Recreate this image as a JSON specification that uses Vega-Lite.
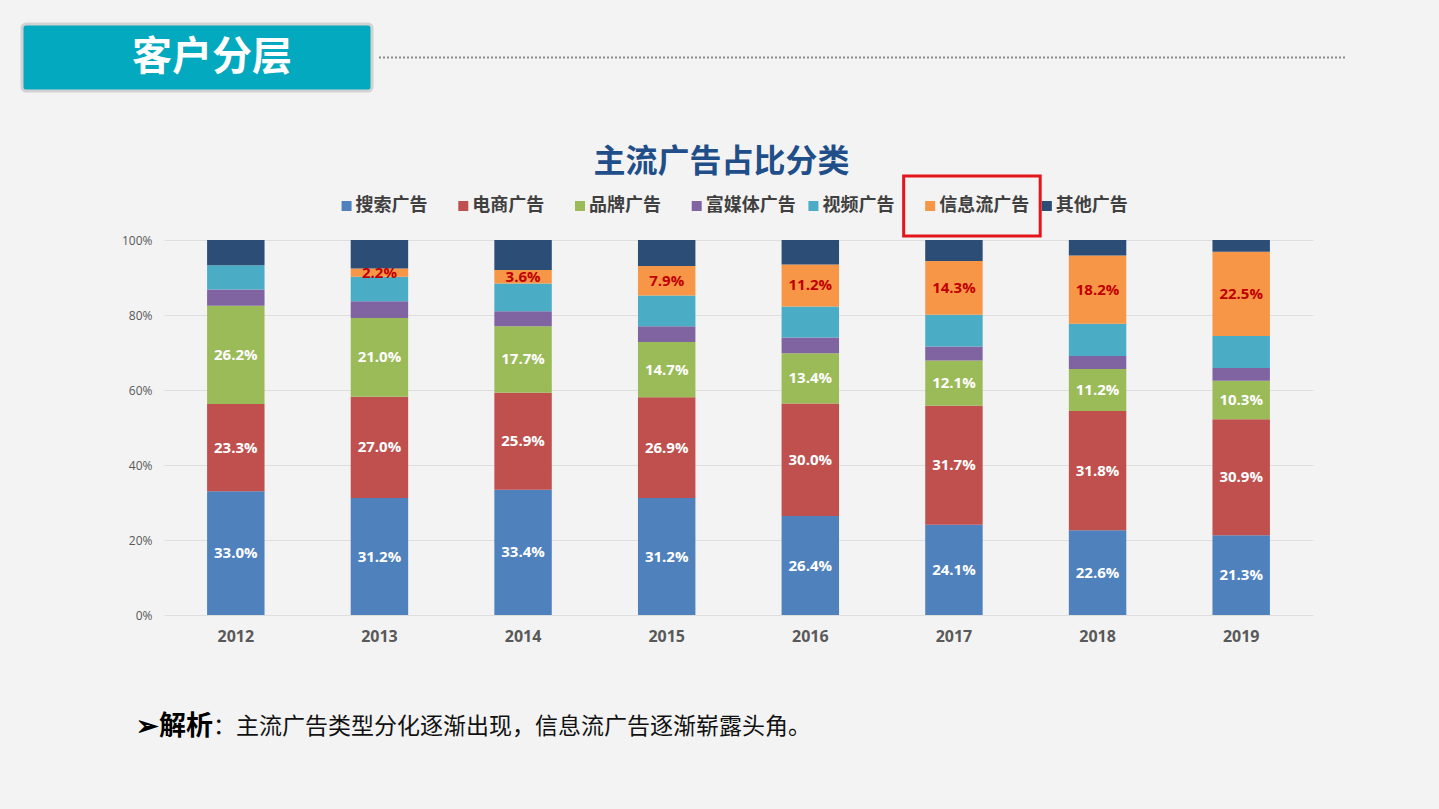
{
  "$schema": "https://vega.github.io/schema/vega-lite/v6.json",
  "background": "#f3f3f3",
  "padding": {"left": 20, "top": 22, "right": 94, "bottom": 67},
  "config": {"view": {"stroke": null}, "font": "Noto Sans CJK SC"},
  "datasets": {
    "图例": [
      {"类别": "搜索广告", "序号": 1},
      {"类别": "电商广告", "序号": 2},
      {"类别": "品牌广告", "序号": 3},
      {"类别": "富媒体广告", "序号": 4},
      {"类别": "视频广告", "序号": 5},
      {"类别": "信息流广告", "序号": 6},
      {"类别": "其他广告", "序号": 7}
    ],
    "占比": [
      {"年份": "2012", "类别": "搜索广告", "占比": 0.330},
      {"年份": "2012", "类别": "电商广告", "占比": 0.233},
      {"年份": "2012", "类别": "品牌广告", "占比": 0.262},
      {"年份": "2012", "类别": "富媒体广告", "占比": 0.043},
      {"年份": "2012", "类别": "视频广告", "占比": 0.065},
      {"年份": "2012", "类别": "其他广告", "占比": 0.067},
      {"年份": "2013", "类别": "搜索广告", "占比": 0.312},
      {"年份": "2013", "类别": "电商广告", "占比": 0.270},
      {"年份": "2013", "类别": "品牌广告", "占比": 0.210},
      {"年份": "2013", "类别": "富媒体广告", "占比": 0.045},
      {"年份": "2013", "类别": "视频广告", "占比": 0.065},
      {"年份": "2013", "类别": "信息流广告", "占比": 0.022},
      {"年份": "2013", "类别": "其他广告", "占比": 0.076},
      {"年份": "2014", "类别": "搜索广告", "占比": 0.334},
      {"年份": "2014", "类别": "电商广告", "占比": 0.259},
      {"年份": "2014", "类别": "品牌广告", "占比": 0.177},
      {"年份": "2014", "类别": "富媒体广告", "占比": 0.040},
      {"年份": "2014", "类别": "视频广告", "占比": 0.074},
      {"年份": "2014", "类别": "信息流广告", "占比": 0.036},
      {"年份": "2014", "类别": "其他广告", "占比": 0.080},
      {"年份": "2015", "类别": "搜索广告", "占比": 0.312},
      {"年份": "2015", "类别": "电商广告", "占比": 0.269},
      {"年份": "2015", "类别": "品牌广告", "占比": 0.147},
      {"年份": "2015", "类别": "富媒体广告", "占比": 0.042},
      {"年份": "2015", "类别": "视频广告", "占比": 0.082},
      {"年份": "2015", "类别": "信息流广告", "占比": 0.079},
      {"年份": "2015", "类别": "其他广告", "占比": 0.069},
      {"年份": "2016", "类别": "搜索广告", "占比": 0.264},
      {"年份": "2016", "类别": "电商广告", "占比": 0.300},
      {"年份": "2016", "类别": "品牌广告", "占比": 0.134},
      {"年份": "2016", "类别": "富媒体广告", "占比": 0.042},
      {"年份": "2016", "类别": "视频广告", "占比": 0.083},
      {"年份": "2016", "类别": "信息流广告", "占比": 0.112},
      {"年份": "2016", "类别": "其他广告", "占比": 0.065},
      {"年份": "2017", "类别": "搜索广告", "占比": 0.241},
      {"年份": "2017", "类别": "电商广告", "占比": 0.317},
      {"年份": "2017", "类别": "品牌广告", "占比": 0.121},
      {"年份": "2017", "类别": "富媒体广告", "占比": 0.037},
      {"年份": "2017", "类别": "视频广告", "占比": 0.085},
      {"年份": "2017", "类别": "信息流广告", "占比": 0.143},
      {"年份": "2017", "类别": "其他广告", "占比": 0.056},
      {"年份": "2018", "类别": "搜索广告", "占比": 0.226},
      {"年份": "2018", "类别": "电商广告", "占比": 0.318},
      {"年份": "2018", "类别": "品牌广告", "占比": 0.112},
      {"年份": "2018", "类别": "富媒体广告", "占比": 0.035},
      {"年份": "2018", "类别": "视频广告", "占比": 0.086},
      {"年份": "2018", "类别": "信息流广告", "占比": 0.182},
      {"年份": "2018", "类别": "其他广告", "占比": 0.041},
      {"年份": "2019", "类别": "搜索广告", "占比": 0.213},
      {"年份": "2019", "类别": "电商广告", "占比": 0.309},
      {"年份": "2019", "类别": "品牌广告", "占比": 0.103},
      {"年份": "2019", "类别": "富媒体广告", "占比": 0.034},
      {"年份": "2019", "类别": "视频广告", "占比": 0.085},
      {"年份": "2019", "类别": "信息流广告", "占比": 0.225},
      {"年份": "2019", "类别": "其他广告", "占比": 0.031}
    ]
  },
  "spacing": 68,
  "vconcat": [
    {
      "spacing": 52,
      "vconcat": [
        {
          "spacing": 2,
          "hconcat": [
            {
              "width": 350,
              "height": 67,
              "view": {"fill": "#03A9BE", "stroke": "#d2d2d2", "strokeWidth": 3, "cornerRadius": 4},
              "data": {"values": [{"标题": "客户分层"}]},
              "mark": {"type": "text", "fontSize": 40, "fontWeight": "bold", "color": "#ffffff", "dx": 15},
              "encoding": {"text": {"field": "标题"}}
            },
            {
              "width": 968,
              "height": 67,
              "data": {"values": [{"基线": 0}]},
              "mark": {"type": "rule", "color": "#8c8c8c", "strokeWidth": 2, "strokeDash": [2, 2]},
              "encoding": {
                "y": {"field": "基线", "type": "quantitative", "scale": {"domain": [-1, 1]}, "axis": null}
              }
            }
          ]
        },
        {
          "spacing": -4,
          "vconcat": [
            {
              "spacing": 0,
              "hconcat": [
                {
                  "width": 308,
                  "height": 1,
                  "data": {"values": [{}]},
                  "mark": {"type": "rule", "opacity": 0},
                  "encoding": {}
                },
                {
                  "width": 817,
                  "height": 60,
                  "title": {"text": "主流广告占比分类", "fontSize": 32, "fontWeight": "bold", "color": "#1F4E89", "offset": 0, "dy": 4, "anchor": "middle", "frame": "group", "dx": -17},
                  "data": {"name": "图例"},
                  "layer": [
                    {
                      "transform": [{"filter": "datum['类别'] === '信息流广告'"}],
                      "mark": {"type": "bar", "filled": false, "stroke": "#E5141B", "strokeWidth": 3, "width": {"band": 1.17}},
                      "encoding": {
                        "x": {"field": "类别", "type": "nominal", "sort": {"field": "序号"}, "axis": null,
                          "scale": {"type": "band", "paddingInner": 0, "paddingOuter": 0}}
                      }
                    },
                    {
                      "mark": {"type": "square", "size": 100, "opacity": 1, "filled": true},
                      "encoding": {
                        "x": {"field": "类别", "type": "nominal", "sort": {"field": "序号"}, "bandPosition": 0.142, "axis": null},
                        "color": {"field": "类别", "type": "nominal", "legend": null,
                          "scale": {"domain": ["搜索广告", "电商广告", "品牌广告", "富媒体广告", "视频广告", "信息流广告", "其他广告"],
                            "range": ["#4F81BD", "#C0504D", "#9BBB59", "#8064A2", "#4BACC6", "#F79646", "#2C4D75"]}}
                      }
                    },
                    {
                      "mark": {"type": "text", "align": "left", "dx": 9, "dy": 0, "fontSize": 18, "fontWeight": "bold", "color": "#404040"},
                      "encoding": {
                        "x": {"field": "类别", "type": "nominal", "sort": {"field": "序号"}, "bandPosition": 0.142, "axis": null},
                        "text": {"field": "类别"}
                      }
                    }
                  ]
                }
              ]
            },
            {
              "spacing": 0,
              "hconcat": [
                {
                  "width": 98,
                  "height": 1,
                  "data": {"values": [{}]},
                  "mark": {"type": "rule", "opacity": 0},
                  "encoding": {}
                },
                {
                  "width": 1149,
                  "height": 375,
                  "data": {"name": "占比"},
                  "transform": [
                    {"lookup": "类别", "from": {"data": {"name": "图例"}, "key": "类别", "fields": ["序号"]}}
                  ],
                  "encoding": {
                    "x": {"field": "年份", "type": "ordinal",
                      "scale": {"paddingInner": 0.6, "paddingOuter": 0.3},
                      "axis": {"labelFont": "Open Sans", "labelFontSize": 16, "labelFontWeight": "bold", "labelColor": "#595959",
                        "labelAngle": 0, "ticks": false, "domain": false, "labelPadding": 13, "title": null, "grid": false}},
                    "order": {"field": "序号", "type": "quantitative"}
                  },
                  "layer": [
                    {
                      "mark": {"type": "bar"},
                      "encoding": {
                        "y": {"field": "占比", "type": "quantitative", "stack": "zero",
                          "scale": {"domain": [0, 1]},
                          "axis": {"format": ".0%", "values": [0, 0.1, 0.2, 0.3, 0.4, 0.5, 0.6, 0.7, 0.8, 0.9, 1],
                            "labelFont": "Open Sans", "labelFontSize": 12, "labelColor": "#595959", "labelPadding": 12,
                            "ticks": false, "domain": false, "gridColor": "#dedede", "title": null, "minExtent": 44}},
                        "color": {"field": "类别", "type": "nominal", "legend": null,
                          "scale": {"domain": ["搜索广告", "电商广告", "品牌广告", "富媒体广告", "视频广告", "信息流广告", "其他广告"],
                            "range": ["#4F81BD", "#C0504D", "#9BBB59", "#8064A2", "#4BACC6", "#F79646", "#2C4D75"]}}
                      }
                    },
                    {
                      "mark": {"type": "text", "font": "Open Sans", "fontSize": 15, "fontWeight": "bold"},
                      "encoding": {
                        "y": {"field": "占比", "type": "quantitative", "stack": "zero", "bandPosition": 0.5},
                        "text": {
                          "condition": {"test": "datum['类别'] === '富媒体广告' || datum['类别'] === '视频广告' || datum['类别'] === '其他广告'", "value": ""},
                          "field": "占比", "type": "quantitative", "format": ".1%"
                        },
                        "color": {
                          "condition": {"test": "datum['类别'] === '信息流广告'", "value": "#C00000"},
                          "value": "#ffffff"
                        }
                      }
                    }
                  ]
                }
              ]
            }
          ]
        }
      ]
    },
    {
      "width": 382,
      "height": 30,
      "data": {"values": [{"标签": "➢解析", "内容": "：主流广告类型分化逐渐出现，信息流广告逐渐崭露头角。"}]},
      "layer": [
        {
          "mark": {"type": "text", "align": "right", "fontSize": 27, "fontWeight": "bold", "color": "#000000"},
          "encoding": {"text": {"field": "标签"}}
        },
        {
          "mark": {"type": "text", "align": "left", "fontSize": 23, "color": "#111111"},
          "encoding": {"text": {"field": "内容"}}
        }
      ]
    }
  ]
}
